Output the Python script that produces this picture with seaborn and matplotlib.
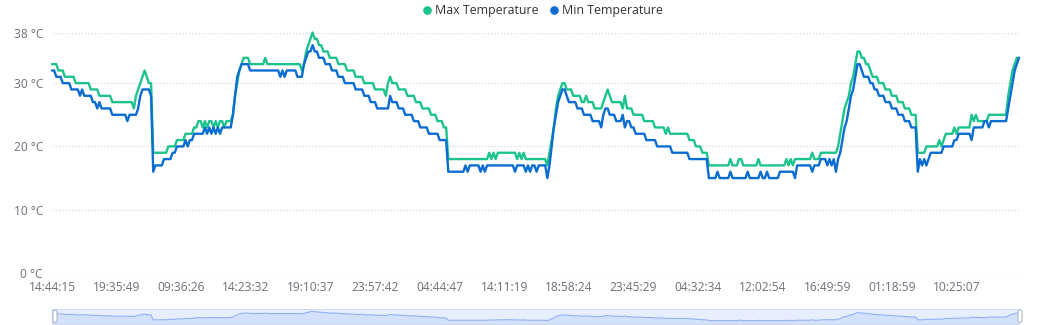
import numpy as np
import pandas as pd
import matplotlib
matplotlib.use("Agg")
import matplotlib.pyplot as plt
from matplotlib.lines import Line2D
from matplotlib.patches import FancyBboxPatch
from matplotlib.transforms import IdentityTransform
import seaborn as sns

# ---------------------------------------------------------------- data
N_POINTS = 450          # samples on the category axis
LABEL_STEP = 30         # one time label every 30 samples
TIME_LABELS = ["14:44:15", "19:35:49", "09:36:26", "14:23:32", "19:10:37",
               "23:57:42", "04:44:47", "14:11:19", "18:58:24", "23:45:29",
               "04:32:34", "12:02:54", "16:49:59", "01:18:59", "10:25:07"]

SERIES_NAMES = ["Max Temperature", "Min Temperature"]
SERIES_COLORS = ["#1cc38d", "#0b6cd2"]

# (first sample index, reading in °C); a reading holds until the next entry
MAX_READINGS = [
    (0, 33), (3, 32), (6, 31), (11, 30), (18, 29), (22, 28), (28, 27), (38, 26),
    (39, 28), (40, 29), (41, 30), (42, 31), (43, 32), (44, 31), (45, 30), (47, 19),
    (54, 20), (58, 21), (62, 22), (66, 23), (68, 24), (70, 23), (71, 24), (72, 23),
    (73, 24), (75, 23), (76, 24), (77, 23), (78, 24), (80, 23), (81, 24), (84, 25),
    (85, 28), (86, 30), (87, 32), (88, 33), (89, 34), (92, 33), (99, 34), (100, 33),
    (116, 32), (117, 33), (118, 35), (119, 36), (120, 37), (121, 38), (122, 37),
    (124, 36), (126, 35), (129, 34), (133, 33), (137, 32), (141, 31), (145, 30),
    (150, 29), (155, 28), (156, 30), (157, 31), (158, 30), (161, 29), (165, 28),
    (169, 27), (172, 26), (176, 25), (179, 24), (182, 23), (184, 18), (203, 19),
    (204, 18), (205, 19), (206, 18), (207, 19), (216, 18), (217, 19), (218, 18),
    (219, 19), (220, 18), (230, 17), (231, 19), (232, 21), (233, 23), (234, 26),
    (235, 28), (236, 29), (237, 30), (239, 29), (242, 28), (246, 27), (248, 28),
    (249, 27), (252, 26), (256, 27), (257, 28), (258, 29), (259, 28), (260, 27),
    (265, 26), (266, 28), (267, 26), (270, 25), (275, 24), (280, 23), (285, 22),
    (286, 23), (287, 22), (296, 21), (299, 20), (302, 19), (305, 17), (315, 18),
    (316, 17), (319, 18), (321, 17), (328, 18), (329, 17), (341, 18), (342, 17),
    (343, 18), (344, 17), (345, 18), (353, 19), (354, 18), (357, 19), (365, 20),
    (366, 22), (367, 24), (368, 26), (369, 27), (370, 28), (371, 30), (372, 31),
    (373, 33), (374, 35), (376, 34), (378, 33), (380, 32), (381, 31), (384, 30),
    (387, 29), (390, 28), (393, 27), (396, 26), (399, 25), (402, 19), (406, 20),
    (412, 21), (413, 20), (414, 21), (415, 22), (419, 23), (420, 22), (421, 23),
    (427, 25), (428, 24), (429, 25), (430, 24), (435, 25), (444, 28), (445, 30),
    (446, 32), (447, 33), (448, 34),
]

MIN_READINGS = [
    (0, 32), (2, 31), (5, 30), (9, 29), (13, 28), (14, 29), (15, 28), (19, 27),
    (21, 26), (22, 27), (23, 26), (28, 25), (35, 24), (36, 25), (40, 26), (41, 28),
    (42, 29), (46, 28), (47, 16), (48, 17), (52, 18), (56, 19), (58, 20), (62, 21),
    (63, 20), (64, 21), (66, 22), (71, 23), (72, 22), (73, 23), (74, 22), (75, 23),
    (76, 22), (77, 23), (78, 22), (79, 23), (84, 25), (85, 28), (86, 31), (87, 32),
    (88, 33), (92, 32), (106, 31), (107, 32), (108, 31), (109, 32), (114, 31),
    (117, 33), (118, 34), (119, 35), (121, 36), (122, 35), (124, 34), (127, 33),
    (130, 32), (133, 31), (136, 30), (141, 29), (145, 28), (148, 27), (151, 26),
    (157, 28), (158, 27), (161, 26), (164, 25), (168, 24), (171, 23), (175, 22),
    (180, 21), (184, 16), (192, 17), (193, 16), (194, 17), (199, 16), (200, 17),
    (201, 16), (202, 17), (215, 16), (216, 17), (220, 16), (221, 17), (222, 16),
    (223, 17), (225, 16), (226, 17), (230, 15), (231, 17), (232, 20), (233, 23),
    (234, 25), (235, 27), (236, 28), (237, 29), (239, 28), (240, 27), (244, 26),
    (247, 25), (251, 24), (255, 23), (256, 25), (257, 26), (259, 25), (262, 24),
    (265, 25), (266, 23), (267, 24), (269, 23), (271, 22), (276, 21), (281, 20),
    (288, 19), (296, 18), (305, 15), (309, 16), (310, 15), (315, 16), (316, 15),
    (323, 16), (324, 15), (329, 16), (330, 15), (332, 16), (333, 15), (338, 16),
    (345, 15), (346, 17), (353, 16), (354, 17), (357, 18), (360, 17), (361, 18),
    (362, 17), (363, 18), (364, 16), (365, 18), (366, 19), (367, 21), (368, 23),
    (369, 24), (370, 26), (371, 28), (372, 29), (373, 31), (374, 33), (376, 32),
    (377, 31), (380, 30), (382, 29), (384, 28), (387, 27), (390, 26), (393, 25),
    (396, 24), (399, 23), (402, 16), (403, 18), (404, 17), (405, 18), (406, 17),
    (407, 18), (408, 19), (414, 20), (419, 21), (421, 22), (427, 21), (428, 23),
    (433, 24), (435, 23), (436, 24), (444, 26), (445, 28), (446, 30), (447, 32),
    (448, 33), (449, 34),
]

Y_TICKS = [0, 10, 20, 30, 38]


def expand(readings, n):
    """Turn (start index, value) readings into one value per sample."""
    out = np.empty(n)
    for k, (start, val) in enumerate(readings):
        end = readings[k + 1][0] if k + 1 < len(readings) else n
        out[start:end] = val
    return out


idx = np.arange(N_POINTS)
max_vals = expand(MAX_READINGS, N_POINTS)
min_vals = expand(MIN_READINGS, N_POINTS)

df = pd.concat([
    pd.DataFrame({"sample": idx, "temp": max_vals, "series": SERIES_NAMES[0]}),
    pd.DataFrame({"sample": idx, "temp": min_vals, "series": SERIES_NAMES[1]}),
], ignore_index=True)

# ---------------------------------------------------------------- style
sns.set_style("white")
plt.rcParams["font.family"] = ["Open Sans", "DejaVu Sans"]
FS = 8.64
TICK_COLOR = "#6e7079"

W, H = 1050, 325
fig = plt.figure(figsize=(W / 100, H / 100), dpi=100)
fig.patch.set_facecolor("white")

# main plotting area (pixel box: x 52..1019, y 32.5..273)
ax = fig.add_axes([52 / W, 1 - 273 / H, 967 / W, (273 - 32.5) / H])

sns.lineplot(data=df, x="sample", y="temp", hue="series",
             palette=dict(zip(SERIES_NAMES, SERIES_COLORS)),
             linewidth=1.7, estimator=None, sort=False, legend=False, ax=ax)
for ln in ax.lines:
    ln.set_clip_on(False)
    ln.set_solid_joinstyle("round")

ax.set_xlim(0, N_POINTS - 1)
ax.set_ylim(0, max(Y_TICKS))
ax.set_yticks(Y_TICKS)
ax.set_yticklabels([f"{v} °C" for v in Y_TICKS])
ax.set_xticks(np.arange(0, N_POINTS, LABEL_STEP)[:len(TIME_LABELS)])
ax.set_xticklabels(TIME_LABELS)
ax.set_xlabel("")
ax.set_ylabel("")
ax.tick_params(axis="both", length=0, labelsize=FS, colors=TICK_COLOR)
ax.tick_params(axis="y", pad=6.5)
ax.tick_params(axis="x", pad=5.5)
ax.grid(axis="y", color="#d6d9e0", linestyle=(0, (1, 1.6)), linewidth=0.9)
ax.grid(axis="x", visible=False)
ax.set_axisbelow(True)
for sp in ax.spines.values():
    sp.set_visible(False)

# legend across the top
handles = [Line2D([], [], linestyle="none", marker="o", markersize=5.2,
                  markerfacecolor=c, markeredgecolor=c)
           for c in SERIES_COLORS]
fig.legend(handles, SERIES_NAMES, loc="upper center",
           bbox_to_anchor=(0.5175, 1.0 + 0.006), ncol=2, frameon=False,
           fontsize=8.9, labelcolor="#333333", handlelength=0.55,
           handletextpad=0.4, columnspacing=0.95, borderaxespad=0.1)

# ---------------------------------------------------------------- range slider
sax = fig.add_axes([52 / W, 1.5 / H, 967 / W, 15 / H])
pad = 0.3 * (max_vals.max() - max_vals.min())
lo, hi = max_vals.min() - pad, max_vals.max() + pad
sax.set_facecolor("#e7efff")
sax.fill_between(idx, lo, max_vals, color="#8fb0f7", alpha=0.22, linewidth=0)
sax.plot(idx, max_vals, color="#8fb0f7", linewidth=0.8)
sax.set_xlim(0, N_POINTS - 1)
sax.set_ylim(lo, hi)
sax.set_xticks([])
sax.set_yticks([])
for sp in sax.spines.values():
    sp.set_color("#d2dbee")
    sp.set_linewidth(0.8)

for cx in (55, 1020):
    fig.patches.append(FancyBboxPatch(
        (cx - 2, 2.5), 4, 12.5,
        boxstyle="round,pad=0,rounding_size=2",
        transform=IdentityTransform(), facecolor="white",
        edgecolor="#acb8d1", linewidth=0.8, zorder=5))

fig.savefig("out.png", dpi=100)
